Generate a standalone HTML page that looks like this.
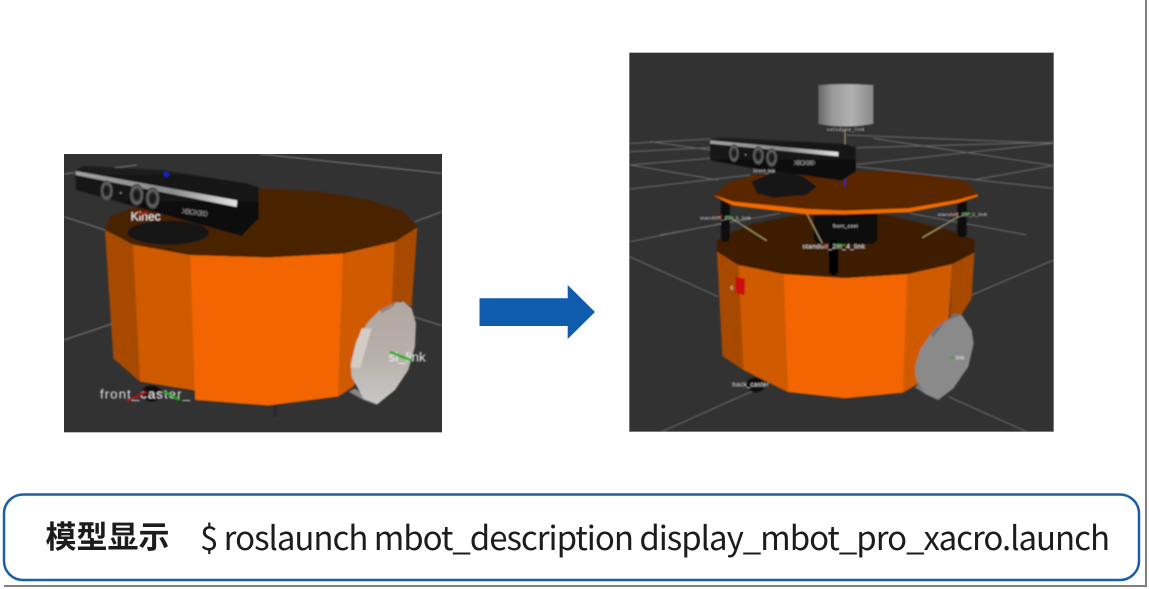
<!DOCTYPE html>
<html><head><meta charset="utf-8">
<style>
html,body{margin:0;padding:0;background:#fff;width:1149px;height:589px;overflow:hidden}
svg{display:block}
text{font-family:"Liberation Sans","Noto Sans CJK SC",sans-serif}
</style></head><body>
<svg width="1149" height="589" viewBox="0 0 1149 589" xmlns="http://www.w3.org/2000/svg">
<defs>
<filter id="b" filterUnits="userSpaceOnUse" x="0" y="0" width="1300" height="1160"><feGaussianBlur stdDeviation="2.2"/></filter>
<clipPath id="cl"><rect x="12" y="12" width="1134" height="835"/></clipPath>
<clipPath id="cr"><rect x="13" y="8" width="1273" height="1137"/></clipPath>
<linearGradient id="cyl" x1="0" x2="1" y1="0" y2="0">
<stop offset="0" stop-color="#666"/><stop offset=".25" stop-color="#999"/><stop offset=".6" stop-color="#b0b0b0"/><stop offset="1" stop-color="#8a8a8a"/>
</linearGradient>
<linearGradient id="kin" x1="0" x2="0" y1="0" y2="1"><stop offset="0" stop-color="#1c1c1c"/><stop offset="1" stop-color="#070707"/></linearGradient>
<linearGradient id="wh" x1="0" x2="0" y1="0" y2="1"><stop offset="0" stop-color="#b0a69f"/><stop offset=".55" stop-color="#b8b0aa"/><stop offset="1" stop-color="#c8c8c8"/></linearGradient>
<linearGradient id="st" x1="0" x2="1" y1="0" y2="0"><stop offset="0" stop-color="#a0a0a0"/><stop offset=".6" stop-color="#8c8c8c"/><stop offset="1" stop-color="#e4e4e4"/></linearGradient>
<radialGradient id="lens"><stop offset="0" stop-color="#141414"/><stop offset=".45" stop-color="#242424"/><stop offset=".75" stop-color="#6c6c6c"/><stop offset="1" stop-color="#2a2a2a"/></radialGradient>
</defs>
<rect width="1149" height="589" fill="#fff"/>

<!-- left panel -->
<g transform="translate(60,150) scale(.33333)">
<rect x="12" y="12" width="1134" height="835" fill="#323232"/>
<g clip-path="url(#cl)"><g filter="url(#b)">
<g stroke="#7c7c7c" stroke-width="3" fill="none">
<path d="M12 72L230 45M600 12L1146 70M12 200L135 240M1065 215L1146 185M12 570L235 495M1060 500L1146 527"/>
</g>
<ellipse cx="275" cy="730" rx="30" ry="24" fill="#0a0a0a"/>
<text x="120" y="745" font-size="40" fill="#e6e6e6" textLength="270">front_caster_</text>
<path d="M200 752L260 726" stroke="#a31414" stroke-width="8"/>
<path d="M310 724L358 750" stroke="#18a818" stroke-width="8"/>
<polygon points="135,240 218,283 240,695 160,625" fill="#a84a00"/>
<polygon points="218,283 390,315 405,722 240,695" fill="#d05a00"/>
<polygon points="390,315 625,322 850,310 835,740 625,767 405,750" fill="#f26500"/>
<polygon points="850,310 1005,275 995,480 880,710 835,740" fill="#d05a00"/>
<polygon points="1005,275 1072,232 1055,470 1020,452 995,480" fill="#a84a00"/>
<polygon points="135,237 150,200 250,160 430,125 600,115 780,125 930,150 1030,185 1072,232 1005,275 850,310 625,322 390,315 218,283" fill="#4a2000"/>
<text x="212" y="212" font-size="36" fill="#f4f0ee">Kinec</text>
<path d="M232 196L262 186" stroke="#a31414" stroke-width="9"/>
<ellipse cx="325" cy="248" rx="122" ry="36" fill="#121212"/>
<polygon points="46,62 70,48 300,60 560,100 596,112 596,205 545,258 48,120" fill="url(#kin)"/>
<polygon points="47,63 532,151 530,171 47,75" fill="url(#st)"/>
<ellipse cx="140" cy="122" rx="19" ry="31" fill="url(#lens)"/>
<ellipse cx="230" cy="135" rx="21" ry="33" fill="url(#lens)"/>
<ellipse cx="278" cy="145" rx="21" ry="33" fill="url(#lens)"/>
<circle cx="182" cy="129" r="3" fill="#888"/>
<circle cx="319" cy="73" r="8" fill="#1020d0"/>
<text x="365" y="190" font-size="22" fill="#8f8f8f" transform="rotate(7 365 190)" textLength="78">XBOX360</text>
<polygon points="866,725 885,715 952,765 910,750" fill="#8a8580"/>
<polygon points="960,480 1005,458 1030,455 1055,475 1068,520 1065,590 1045,660 1005,720 952,763 910,745 875,680 872,640 890,570 925,515" fill="url(#wh)"/>
<polygon points="905,535 935,535 900,655 872,652 885,590" fill="#d2cbc6"/>
<polygon points="960,480 1005,458 1000,470 965,490" fill="#8e8880"/>
<text x="986" y="634" font-size="40" fill="#efefef">sl_link</text>
<path d="M990 606L1056 632" stroke="#18b018" stroke-width="8"/>
<path d="M640 770h10M645 770v28M640 798h10" stroke="#222" stroke-width="4" fill="none"/>
</g></g>
</g>

<!-- right panel -->
<g transform="translate(625,50) scale(.33333)">
<rect x="13" y="8" width="1273" height="1137" fill="#323232"/>
<g clip-path="url(#cr)"><g filter="url(#b)">
<g stroke="#6c6c6c" stroke-width="3" fill="none">
<path d="M15 280L255 267M15 305L255 293M75 275L255 300M15 345L255 325M15 345L280 390M15 417L375 375M105 555L465 490M15 575L290 520"/>
<path d="M665 255L1285 280M695 293L1285 277M745 265L1285 347M695 343L1285 280M695 350L1285 415M1045 390L1285 347M855 490L1205 555"/>
<path d="M13 620L280 740M1040 735L1286 630M110 1145L390 1020M970 1040L1205 1145"/>
</g>
<path d="M580 105Q660 98 745 105V222Q660 238 580 222Z" fill="url(#cyl)"/>
<path d="M660 240V290" stroke="#b8b060" stroke-width="3"/>
<text x="606" y="243" font-size="14" fill="#e8e8e8" textLength="112">velodyne_link</text>
<!-- lower deck -->
<polygon points="276,605 340,645 355,960 292,918" fill="#a84a00"/>
<polygon points="340,645 475,672 488,1026 355,960" fill="#d05a00"/>
<polygon points="475,672 660,684 848,672 835,1028 660,1045 488,1026" fill="#f26500"/>
<polygon points="848,672 982,642 972,800 880,1000 835,1028" fill="#d05a00"/>
<polygon points="982,642 1048,608 1040,745 1010,793 975,800" fill="#a84a00"/>
<polygon points="276,570 315,550 385,520 495,500 566,490 758,490 850,510 990,545 1048,570 1048,608 982,642 848,672 660,684 475,672 340,645 276,605" fill="#3e1c00"/>
<path d="M566 480H758V560Q758 582 735 582H590Q566 582 566 560Z" fill="#0a0a0a"/>
<rect x="288" y="445" width="26" height="130" rx="10" fill="#0c0c0c"/>
<rect x="997" y="450" width="28" height="112" rx="10" fill="#0c0c0c"/>
<rect x="612" y="570" width="28" height="106" rx="13" fill="#060606"/>
<path d="M320 505L425 572M1000 500L892 563M545 490L592 580" stroke="#b0a870" stroke-width="3"/>
<text x="624" y="532" font-size="14" fill="#e8e8e8" textLength="74">front_cast</text>
<!-- upper deck -->
<polygon points="265,437 325,467 545,493 660,493 850,487 995,460 1058,440 1058,432 850,470 545,470 325,450" fill="#f26a00"/>
<polygon points="265,435 305,400 385,375 560,362 795,363 915,375 1025,395 1058,433 995,450 850,475 660,482 545,477 325,455" fill="#5a2800"/>
<!-- kinect -->
<polygon points="380,395 415,380 445,365 500,370 535,380 575,410 545,435 445,443 395,430" fill="#121212"/>
<polygon points="255,270 290,262 660,282 692,292 692,365 650,392 455,365 385,355 255,330" fill="url(#kin)"/>
<polygon points="255,271 640,306 640,319 255,281" fill="url(#st)"/>
<ellipse cx="327" cy="310" rx="15" ry="27" fill="url(#lens)"/>
<ellipse cx="400" cy="317" rx="17" ry="28" fill="url(#lens)"/>
<ellipse cx="440" cy="323" rx="17" ry="28" fill="url(#lens)"/>
<circle cx="362" cy="314" r="2.5" fill="#888"/>
<path d="M660 385V408" stroke="#2222cc" stroke-width="4"/>
<!-- caster -->
<ellipse cx="392" cy="1005" rx="28" ry="22" fill="#0a0a0a"/>
<!-- red -->
<polygon points="330,680 360,686 360,735 332,730" fill="#cc1010"/>
<!-- wheel -->
<polygon points="870,1012 890,990 940,1050 905,1035" fill="#777"/>
<polygon points="925,840 975,802 1010,795 1040,840 1046,880 1030,950 985,1015 940,1050 900,1030 872,985 870,950 885,900" fill="#8a8a8a"/>
<polygon points="925,840 975,802 985,792 1005,792 1010,795 960,815 925,862 918,855" fill="#727272"/>
<g fill="#e8e8e8">
<text x="385" y="368" font-size="13" textLength="65">kinect_link</text>
<text x="225" y="508" font-size="15" textLength="152">standoff_2in_3_link</text>
<text x="938" y="498" font-size="15" textLength="148">standoff_2in_2_link</text>
<text x="532" y="596" font-size="20" textLength="188">standoff_2in_4_link</text>
<text x="316" y="719" font-size="18">c</text>
<text x="992" y="928" font-size="17">link</text>
<text x="322" y="1009" font-size="19" textLength="110">back_caster</text>
</g>
<path d="M268 500L292 497M590 588L612 582" stroke="#a31414" stroke-width="4"/>
<path d="M303 499L325 501M635 583L660 585M1015 490L1038 490M975 921L990 925" stroke="#18a818" stroke-width="4"/>
<path d="M975 492L998 488" stroke="#a31414" stroke-width="4"/>
<text x="506" y="345" font-size="20" fill="#9a9a9a" textLength="64">XBOX360</text>
</g></g>
</g>

<!-- arrow -->
<polygon points="479.5,298.3 567.7,298.3 567.7,285 595,312 567.7,339 567.7,326 479.5,326" fill="#0f5cae"/>

<!-- page edges -->
<path d="M1146 0V586H4" stroke="#808080" stroke-width="2" fill="none"/>

<!-- command box -->
<rect x="4" y="494.5" width="1135" height="85.5" rx="19" fill="#fff" stroke="#1a5fa8" stroke-width="2.5"/>
<text x="45.5" y="548" font-size="31" font-weight="700" fill="#1c1c1c" style='font-family:"Noto Sans CJK SC",sans-serif' textLength="124">模型显示</text>
<text x="200" y="550" font-size="33" fill="#1c1c1c" style='font-family:"Noto Sans CJK SC",sans-serif' textLength="910">$ roslaunch mbot_description display_mbot_pro_xacro.launch</text>
</svg>
</body></html>
